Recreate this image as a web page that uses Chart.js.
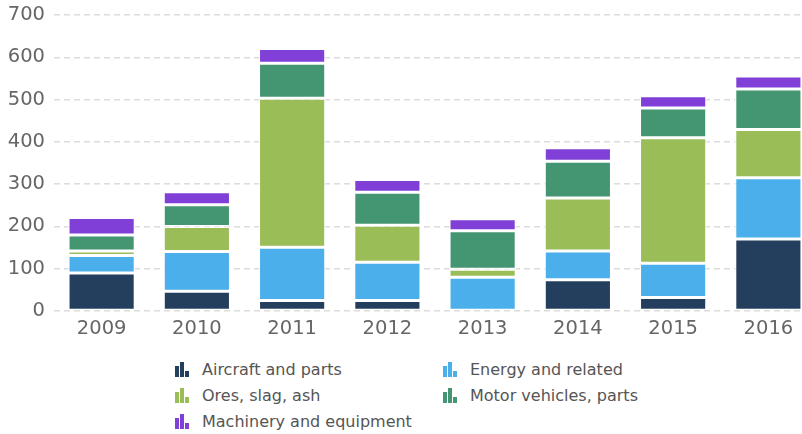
<!DOCTYPE html>
<html>
<head>
<meta charset="utf-8">
<script src="https://cdn.jsdelivr.net/npm/chart.js@4"></script>
<style>
  html, body { margin: 0; padding: 0; background: #fff; overflow: hidden; }
  #wrap { position: relative; width: 816px; height: 434px; }
  #chart-box { position: absolute; left: 0; top: 0; width: 816px; height: 350px; }
  #legend {
    position: absolute; left: 175px; top: 356px;
    display: grid; grid-template-columns: 268px 240px; row-gap: 0;
    font-family: "DejaVu Sans", sans-serif; font-size: 16px; color: #555;
  }
  .item { display: flex; align-items: center; height: 26px; white-space: nowrap; }
  .icon { display: flex; align-items: flex-end; width: 20px; height: 16px; margin-right: 7px; gap: 1px; }
  .icon span { display: block; width: 4px; }
</style>
</head>
<body>
<div id="wrap">
  <div id="chart-box"><canvas id="barChart"></canvas></div>
  <div id="legend"></div>
</div>
<script>
// data
const years = ['2009', '2010', '2011', '2012', '2013', '2014', '2015', '2016'];
const seriesNames = ['Aircraft and parts', 'Energy and related', 'Ores, slag, ash', 'Motor vehicles, parts', 'Machinery and equipment'];
const aircraft = [90, 47, 25, 25, 2, 74, 32, 170];
const energy = [41, 94, 126, 90, 78, 68, 81, 145];
const ores = [11, 59, 352, 88, 19, 125, 297, 114];
const motor = [38, 51, 83, 78, 91, 87, 70, 96];
const machinery = [41, 31, 35, 30, 28, 32, 29, 31];
const yTicks = [0, 100, 200, 300, 400, 500, 600, 700];

const colors = ['#243f5e', '#4aafea', '#9abd58', '#449672', '#803fd6'];
const values = [aircraft, energy, ores, motor, machinery];

const datasets = seriesNames.map((name, i) => ({
    label: name,
    data: values[i],
    backgroundColor: colors[i],
    borderColor: 'rgba(255,255,255,0.75)',
    borderWidth: 1.5,
    borderSkipped: false,
    barPercentage: 0.705,
    categoryPercentage: 1
}));

const ctx = document.getElementById('barChart').getContext('2d');
new Chart(ctx, {
    type: 'bar',
    data: { labels: years, datasets: datasets },
    options: {
        responsive: true,
        maintainAspectRatio: false,
        animation: false,
        layout: { padding: { left: 0, top: 15, right: 0, bottom: 0 } },
        plugins: {
            legend: { display: false },
            tooltip: { enabled: false }
        },
        scales: {
            x: {
                stacked: true,
                grid: { display: false, drawTicks: false },
                border: { display: false },
                afterFit: axis => { axis.height = 39; },
                ticks: {
                    color: '#666',
                    padding: 6,
                    font: { family: 'DejaVu Sans', size: 19.5 }
                }
            },
            y: {
                stacked: true,
                min: 0,
                max: 700,
                afterBuildTicks: axis => { axis.ticks = yTicks.map(v => ({ value: v })); },
                afterFit: axis => {
                    axis.width = 54;
                    axis.paddingTop = 0;
                    axis.paddingBottom = 0;
                },
                grid: { color: '#dcdcdc', lineWidth: 1.5, drawTicks: false },
                border: { display: false, dash: [6, 4] },
                ticks: {
                    color: '#666',
                    padding: 9,
                    font: { family: 'DejaVu Sans', size: 19.5 }
                }
            }
        }
    }
});

// legend (two columns)
const legend = document.getElementById('legend');
seriesNames.forEach((name, i) => {
    const item = document.createElement('div');
    item.className = 'item';
    const icon = document.createElement('div');
    icon.className = 'icon';
    [11, 15, 6].forEach(h => {
        const s = document.createElement('span');
        s.style.height = h + 'px';
        s.style.background = colors[i];
        icon.appendChild(s);
    });
    const txt = document.createElement('span');
    txt.textContent = name;
    item.appendChild(icon);
    item.appendChild(txt);
    legend.appendChild(item);
});
</script>
</body>
</html>
